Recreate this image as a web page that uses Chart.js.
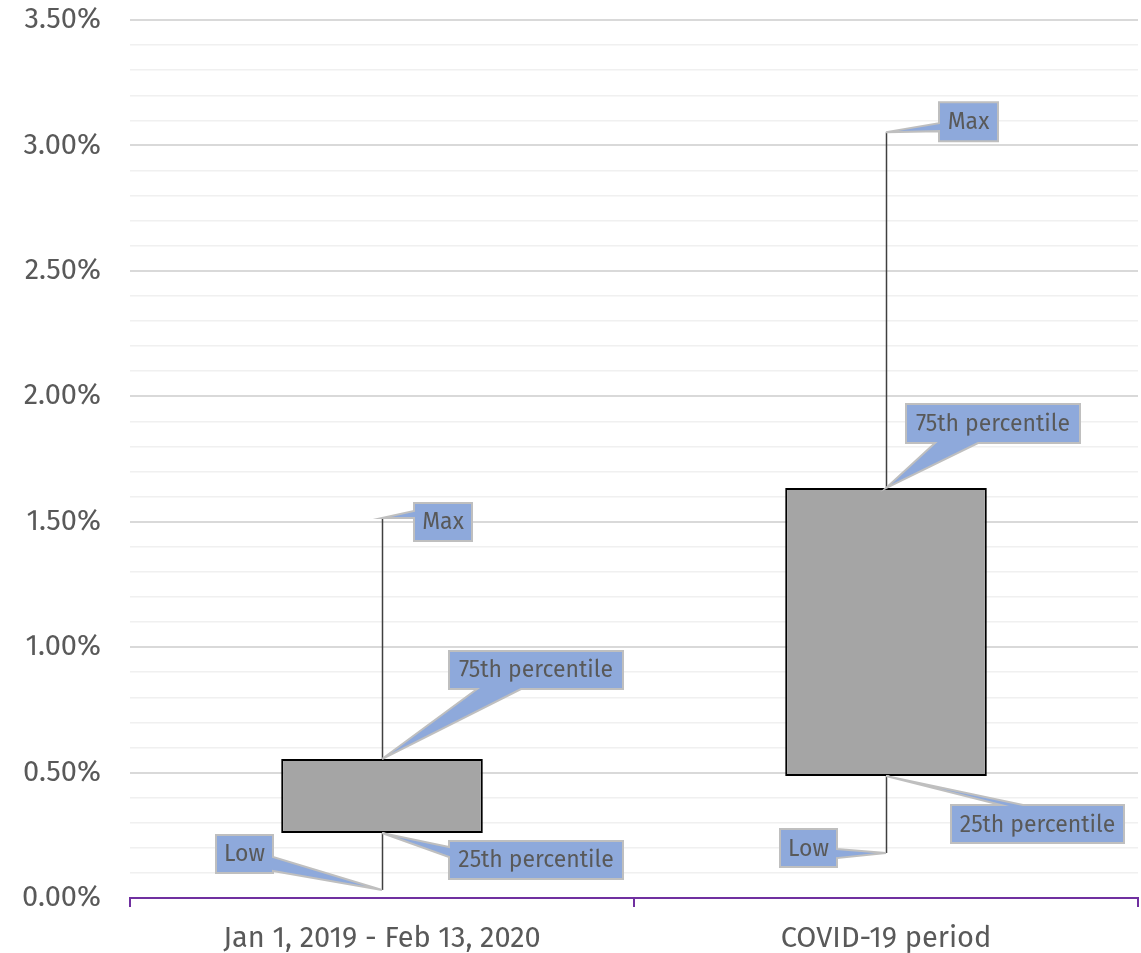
<!DOCTYPE html>
<html>
<head>
<meta charset="utf-8">
<script src="https://cdn.jsdelivr.net/npm/chart.js@4"></script>
<style>
html,body{margin:0;padding:0;background:#fff;}
#wrap{width:1141px;height:953px;position:relative;}
</style>
</head>
<body>
<div id="wrap"><canvas id="c"></canvas></div>
<script>
// ---- data (values in percent) ----
const categories = ['Jan 1, 2019 - Feb 13, 2020', 'COVID-19 period'];
const lowValues = [0.032, 0.179];
const q1Values = [0.259, 0.486];
const q3Values = [0.554, 1.634];
const maxValues = [1.515, 3.053];
const yTickStep = 0.1;
const yMax = 3.5;

// callout label placements relative to the anchored data point (layout only)
const callouts = [
  {cat:0, key:'max', text:'Max', dx:32, dy:-15, w:58, h:38, side:'left', a:8, b:15},
  {cat:0, key:'q3', text:'75th percentile', dx:67, dy:-108, w:174, h:38, side:'bottom', a:28, b:72},
  {cat:0, key:'q1', text:'25th percentile', dx:67, dy:8, w:174, h:38, side:'left', a:6, b:16},
  {cat:0, key:'low', text:'Low', dx:-166, dy:-55, w:57, h:38, side:'right', a:22, b:36},
  {cat:1, key:'max', text:'Max', dx:53, dy:-30, w:59, h:39, side:'left', a:21, b:29},
  {cat:1, key:'q3', text:'75th percentile', dx:20, dy:-84, w:174, h:39, side:'bottom', a:29, b:72},
  {cat:1, key:'q1', text:'25th percentile', dx:65, dy:29, w:173, h:38, side:'top', a:50, b:72},
  {cat:1, key:'low', text:'Low', dx:-106, dy:-24, w:57, h:38, side:'right', a:20, b:29}
];

const valueOf = {max:maxValues, q3:q3Values, q1:q1Values, low:lowValues};
const FONT = '"Fira Sans", "Open Sans", sans-serif';

const boxPlugin = {
  id:'boxExtras',
  afterDatasetsDraw(chart){
    const ctx = chart.ctx, y = chart.scales.y, meta = chart.getDatasetMeta(0);
    ctx.save();
    ctx.strokeStyle = '#404040';
    ctx.lineWidth = 1.5;
    meta.data.forEach((bar, i) => {
      const x = Math.round(bar.x) + 0.5;
      ctx.beginPath();
      ctx.moveTo(x, y.getPixelForValue(maxValues[i]));
      ctx.lineTo(x, y.getPixelForValue(q3Values[i]));
      ctx.moveTo(x, y.getPixelForValue(q1Values[i]));
      ctx.lineTo(x, y.getPixelForValue(lowValues[i]));
      ctx.stroke();
    });
    ctx.restore();
  },
  afterDraw(chart){
    const ctx = chart.ctx, y = chart.scales.y, meta = chart.getDatasetMeta(0);
    ctx.save();
    callouts.forEach(c => {
      const px = meta.data[c.cat].x;
      const py = y.getPixelForValue(valueOf[c.key][c.cat]);
      const L = px + c.dx, T = py + c.dy, R = L + c.w, B = T + c.h;
      ctx.beginPath();
      ctx.moveTo(L, T);
      if (c.side === 'top') { ctx.lineTo(L + c.a, T); ctx.lineTo(px, py); ctx.lineTo(L + c.b, T); }
      ctx.lineTo(R, T);
      if (c.side === 'right') { ctx.lineTo(R, T + c.a); ctx.lineTo(px, py); ctx.lineTo(R, T + c.b); }
      ctx.lineTo(R, B);
      if (c.side === 'bottom') { ctx.lineTo(L + c.b, B); ctx.lineTo(px, py); ctx.lineTo(L + c.a, B); }
      ctx.lineTo(L, B);
      if (c.side === 'left') { ctx.lineTo(L, T + c.b); ctx.lineTo(px, py); ctx.lineTo(L, T + c.a); }
      ctx.closePath();
      ctx.fillStyle = '#8EA9DB';
      ctx.fill();
      ctx.strokeStyle = '#BFBFBF';
      ctx.lineWidth = 2;
      ctx.stroke();
      ctx.fillStyle = '#595959';
      ctx.font = '23px ' + FONT;
      ctx.textAlign = 'center';
      ctx.textBaseline = 'middle';
      ctx.fillText(c.text, (L + R) / 2, (T + B) / 2 + 1);
    });
    ctx.restore();
  }
};

new Chart(document.getElementById('c'), {
  type:'bar',
  data:{
    labels:categories,
    datasets:[{
      data: q1Values.map((v,i) => [v, q3Values[i]]),
      backgroundColor:'#A5A5A5',
      borderColor:'#000000',
      borderWidth:2,
      borderSkipped:false,
      categoryPercentage:1,
      barPercentage:0.4
    }]
  },
  options:{
    responsive:true,
    maintainAspectRatio:false,
    animation:false,
    devicePixelRatio:1,
    layout:{padding:{top:20, right:3, left:0, bottom:0}},
    plugins:{legend:{display:false}, tooltip:{enabled:false}},
    scales:{
      x:{
        grid:{display:true, offset:true, drawOnChartArea:false, drawTicks:true, tickLength:9, color:'#7030A0', lineWidth:2},
        border:{display:true, color:'#7030A0', width:2},
        ticks:{color:'#595959', font:{family:FONT, size:29}, padding:15},
        afterFit(s){ s.height = 55; }
      },
      y:{
        min:0, max:yMax,
        grid:{
          drawTicks:false,
          color:(ctx) => (Math.round(ctx.tick.value*10) % 5 === 0) ? '#D9D9D9' : '#F0F0F0',
          lineWidth:(ctx) => (Math.round(ctx.tick.value*10) % 5 === 0) ? 2 : 1.5
        },
        border:{display:false},
        ticks:{
          stepSize:yTickStep,
          autoSkip:false,
          color:'#595959',
          font:{family:FONT, size:29},
          padding:29,
          callback:(v) => (Math.round(v*10) % 5 === 0) ? v.toFixed(2) + '%' : ''
        },
        afterFit(s){ s.width = 130; s.paddingTop = 0; s.paddingBottom = 0; }
      }
    }
  },
  plugins:[boxPlugin]
});
</script>
</body>
</html>
